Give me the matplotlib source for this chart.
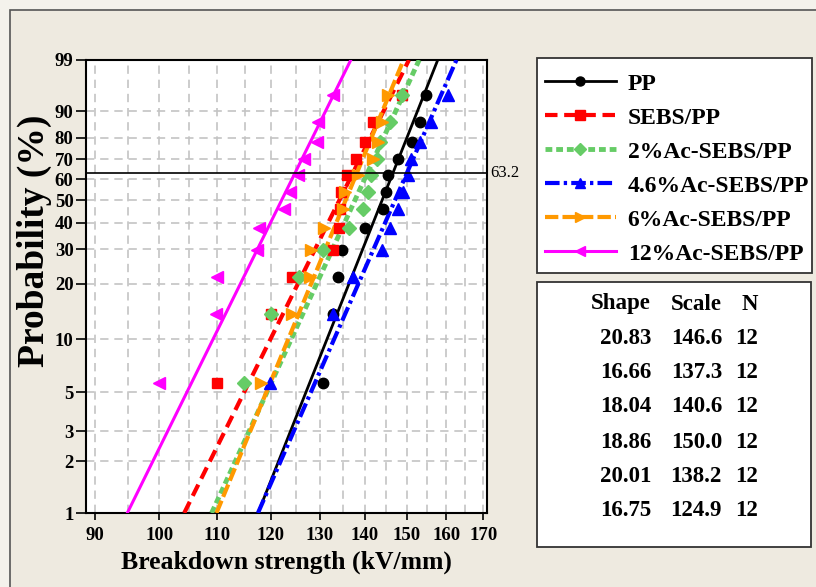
import numpy as np
import matplotlib
matplotlib.use("Agg")
import matplotlib.pyplot as plt
import matplotlib.transforms as mtransforms
from matplotlib.patches import Rectangle
from matplotlib.ticker import FixedLocator, FixedFormatter, NullFormatter

plt.rcParams['font.family'] = ['Liberation Serif', 'DejaVu Serif']
plt.rcParams['font.weight'] = 'bold'

# data
labels = ['PP', 'SEBS/PP', '2%Ac-SEBS/PP', '4.6%Ac-SEBS/PP', '6%Ac-SEBS/PP', '12%Ac-SEBS/PP']
shape = [20.83, 16.66, 18.04, 18.86, 20.01, 16.75]
scale = [146.6, 137.3, 140.6, 150.0, 138.2, 124.9]
n_obs = [12, 12, 12, 12, 12, 12]

# median rank plotting positions (%)
prob = [5.65, 13.71, 21.77, 29.84, 37.90, 45.97, 54.03, 62.10, 70.16, 78.23, 86.29, 94.35]

pp = [130.8, 133.0, 134.0, 134.9, 140.1, 144.3, 145.0, 145.5, 147.7, 151.3, 153.3, 154.8]
sebs = [110.0, 120.1, 124.3, 132.9, 134.2, 134.5, 134.7, 136.0, 138.1, 140.1, 141.9, 148.9]
ac2 = [114.9, 120.1, 125.7, 130.8, 136.5, 139.5, 140.8, 141.5, 142.9, 143.6, 146.0, 148.9]
ac46 = [119.9, 132.9, 137.4, 144.0, 145.8, 147.7, 149.1, 150.3, 151.0, 153.3, 155.9, 160.3]
ac6 = [118.1, 124.3, 128.0, 128.2, 131.0, 135.0, 135.5, 138.5, 141.9, 143.0, 144.0, 145.3]
ac12 = [100.0, 109.8, 110.0, 117.3, 117.8, 122.7, 123.9, 125.6, 126.8, 129.5, 129.7, 132.9]
series = [pp, sebs, ac2, ac46, ac6, ac12]

colors = ['black', '#FF0000', '#66CC66', '#0000FF', '#FF9900', '#FF00FF']
markers = ['o', 's', 'D', '^', '>', '<']
widths = [2.0, 3.0, 3.5, 3.0, 3.0, 2.2]
styles = ['-', (0, (3, 1.6)), (0, (1.4, 0.8)), (0, (3.5, 1, 0.8, 1)), (0, (3.2, 1)), '-']
msizes = [7.5, 7.5, 7.5, 8.5, 8.5, 8.5]

W, H = 816, 587


def fx(x):
    return x / W


def fy(y):
    return 1 - y / H


def weib_fwd(p):
    p = np.clip(np.asarray(p, dtype=float), 1e-6, 100 - 1e-6)
    return np.log(-np.log(1 - p / 100.0))


def weib_inv(w):
    return 100.0 * (1 - np.exp(-np.exp(np.asarray(w, dtype=float))))


fig = plt.figure(figsize=(W / 100, H / 100), dpi=100, facecolor='#F4F2EC')
fig.patches.append(Rectangle((fx(10), fy(H + 20)), 1.2, fy(10) - fy(H + 20),
                             transform=fig.transFigure, facecolor='#EEEAE0',
                             edgecolor='#555555', lw=1.2, zorder=-1))

ax = fig.add_axes([fx(86), fy(513), fx(487) - fx(86), fy(60) - fy(513)])
ax.set_zorder(2)
ax.set_facecolor('white')
ax.set_xscale('log')
ax.set_yscale('function', functions=(weib_fwd, weib_inv))
ax.set_xlim(88.7, 171)
ax.set_ylim(1, 99)

xt = [90, 100, 110, 120, 130, 140, 150, 160, 170]
ax.xaxis.set_major_locator(FixedLocator(xt))
ax.xaxis.set_major_formatter(FixedFormatter([str(v) for v in xt]))
ax.xaxis.set_minor_locator(FixedLocator([95, 105, 115, 125, 135, 145, 155, 165]))
ax.xaxis.set_minor_formatter(NullFormatter())
yt = [1, 2, 3, 5, 10, 20, 30, 40, 50, 60, 70, 80, 90, 99]
ax.yaxis.set_major_locator(FixedLocator(yt))
ax.yaxis.set_major_formatter(FixedFormatter([str(v) for v in yt]))
ax.yaxis.set_minor_locator(FixedLocator([]))

ax.grid(True, which='both', color='#C4C4C4', ls=(0, (5, 3.5)), lw=1.2)
ax.set_axisbelow(True)
ax.tick_params(axis='x', which='major', length=5, width=1.2, labelsize=13.5, pad=5)
ax.tick_params(axis='x', which='minor', length=0)
ax.tick_params(axis='y', length=7, width=1.2, labelsize=13.5, pad=2)
for s in ax.spines.values():
    s.set_linewidth(1.5)

handles = []
for i, vals in enumerate(series):
    lo = scale[i] * (-np.log(1 - 0.01)) ** (1 / shape[i])
    hi = scale[i] * (-np.log(1 - 0.99)) ** (1 / shape[i])
    ax.plot([lo, hi], [1, 99], color=colors[i], lw=widths[i], ls=styles[i], zorder=3)
    ax.plot(vals, prob, ls='none', marker=markers[i], color=colors[i], ms=msizes[i],
            mec=colors[i], zorder=4)
    h, = ax.plot([], [], color=colors[i], lw=widths[i], ls=styles[i],
                 marker=markers[i], ms=msizes[i] - 1)
    handles.append(h)

# 63.2 reference line
trans = mtransforms.blended_transform_factory(ax.transAxes, ax.transData)
ax.axhline(63.2, color='black', lw=1.2, zorder=5)
ax.text(1.008, 63.2, '63.2', transform=trans, ha='left', va='center',
        fontsize=12, fontweight='normal', clip_on=False)

ax.set_xlabel('Breakdown strength (kV/mm)', fontsize=18.5, fontweight='bold', labelpad=5)
ax.set_ylabel('Probability (%)', fontsize=27, fontweight='bold')
ax.yaxis.set_label_coords(-0.085, 0.6)

# legend box
fig.patches.append(Rectangle((fx(537), fy(273)), fx(812) - fx(537), fy(58) - fy(273),
                             transform=fig.transFigure, facecolor='white',
                             edgecolor='#333333', lw=1.3, zorder=1))
leg = fig.legend(handles, labels, loc='upper left', bbox_to_anchor=(fx(545), fy(73)),
                 frameon=False, fontsize=17, handlelength=3.0, handletextpad=0.5,
                 labelspacing=0.53, borderaxespad=0, borderpad=0, numpoints=1)
leg.set_zorder(6)

# parameter table box
fig.patches.append(Rectangle((fx(537), fy(547)), fx(811) - fx(537), fy(282) - fy(547),
                             transform=fig.transFigure, facecolor='white',
                             edgecolor='#333333', lw=1.3, zorder=1))
col_x = [651, 722, 758]
fs_tab = 16.5
fig.text(fx(col_x[0]), fy(304), 'Shape', ha='right', va='center', fontsize=fs_tab)
fig.text(fx(col_x[1]), fy(304), 'Scale', ha='right', va='center', fontsize=fs_tab)
fig.text(fx(col_x[2]), fy(304), 'N', ha='right', va='center', fontsize=fs_tab)
row_y = [338, 373, 407, 442, 476, 510]
for i in range(len(labels)):
    fig.text(fx(col_x[0]), fy(row_y[i]), '%.2f' % shape[i], ha='right', va='center', fontsize=fs_tab)
    fig.text(fx(col_x[1]), fy(row_y[i]), '%.1f' % scale[i], ha='right', va='center', fontsize=fs_tab)
    fig.text(fx(col_x[2]), fy(row_y[i]), str(n_obs[i]), ha='right', va='center', fontsize=fs_tab)

fig.savefig('out.png', dpi=100, facecolor=fig.get_facecolor())
